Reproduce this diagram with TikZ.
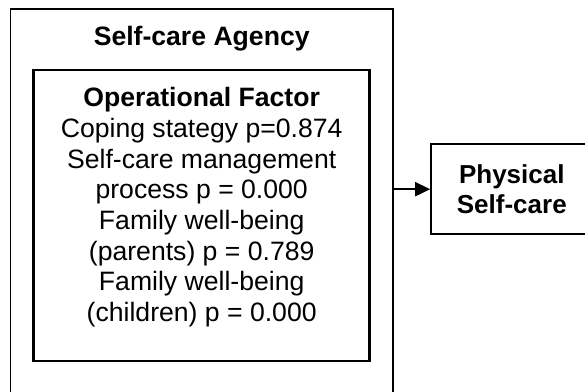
\documentclass[tikz,border=0pt]{standalone}
\usepackage{fontspec}
\setmainfont{Liberation Sans}
\usetikzlibrary{arrows.meta}

\begin{document}
\begin{tikzpicture}[x=1bp,y=-1bp,
  box/.style={draw, rectangle, inner sep=0},
  txt/.style={font=\fontsize{26.6bp}{30.7bp}\selectfont, align=center, inner sep=0}]
  \useasboundingbox (0,0) rectangle (585,391);
  \clip (0,0) rectangle (585,391);

  \node[box, line width=1.8bp, minimum width=382.3bp, minimum height=421bp] (agency) at (201.6,219.6) {};
  \node[txt, font=\fontsize{26.6bp}{30.7bp}\selectfont\bfseries, anchor=base] (agencytitle) at (201.7,45.3) {Self-care Agency};

  \node[box, line width=2.5bp, minimum width=335.6bp, minimum height=291bp] (factor) at (201.5,215.5) {};
  \node[txt, anchor=north] (factortext) at (201.7,87.3)
    {\textbf{Operational Factor}\\Coping stategy p=0.874\\Self-care management\\process p = 0.000\\Family well-being\\(parents) p = 0.789\\Family well-being\\(children) p = 0.000};

  \node[box, txt, line width=2.2bp, minimum width=161bp, minimum height=89.7bp,
    font=\fontsize{26bp}{30bp}\selectfont\bfseries] (physical) at (511.8,189.2) {Physical\\Self-care};

  \draw[line width=2bp, -{Triangle[length=15bp,width=14bp]}] (physical.west -| agency.east) -- (physical.west);
\end{tikzpicture}
\end{document}
